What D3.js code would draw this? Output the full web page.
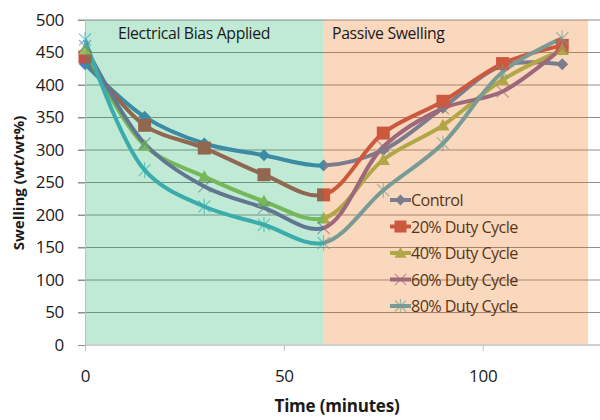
<!DOCTYPE html>
<html><head><meta charset="utf-8">
<script src="https://cdn.jsdelivr.net/npm/d3@7"></script>
<style>body{margin:0;background:#fff}svg{display:block}</style>
</head><body><svg width="600" height="420"></svg>
<script>
const times = [0, 15, 30, 45, 60, 75, 90, 105, 120];
const seriesNames = ["Control", "20% Duty Cycle", "40% Duty Cycle", "60% Duty Cycle", "80% Duty Cycle"];
const control = [432, 351, 310, 292, 276, 300, 365, 430, 432];
const duty20 = [443, 338, 303, 262, 231, 326, 375, 433, 461];
const duty40 = [455, 307, 259, 221, 195, 285, 338, 408, 454];
const duty60 = [460, 310, 244, 211, 180, 305, 364, 390, 457];
const duty80 = [470, 269, 213, 185, 157, 238, 310, 420, 472];
const yTicks = [0, 50, 100, 150, 200, 250, 300, 350, 400, 450, 500];
const xTicks = [0, 50, 100];
const phaseLabels = ["Electrical Bias Applied", "Passive Swelling"];
const phaseStart = [0, 60];
const phaseEnd = [60, 126.5];

const colors = ["#4F81BD", "#C0504D", "#9BBB59", "#8064A2", "#4BACC6"];
const markers = ["diamond", "square", "triangle", "x", "star"];
const phaseFill = ["rgba(3,171,91,0.25)", "rgba(237,116,23,0.28)"];
const allSeries = [control, duty20, duty40, duty60, duty80];

const svg = d3.select("svg");
const x = d3.scaleLinear().domain([0, 130]).range([85, 602]);
const y = d3.scaleLinear().domain([0, 500]).range([345, 20]);
const font = "'Open Sans', 'Liberation Sans', sans-serif";

// gridlines
svg.append("g").selectAll("line").data(yTicks.filter(d => d > 0)).join("line")
  .attr("x1", 78).attr("x2", 600).attr("y1", d => y(d)).attr("y2", d => y(d))
  .attr("stroke", "#8E8E8E").attr("stroke-width", 1);

// y axis
const yAxis = svg.append("g").attr("transform", "translate(85,0)")
  .call(d3.axisLeft(y).tickValues(yTicks).tickSize(7).tickPadding(14));
yAxis.select(".domain").attr("stroke", "#BFBFBF");
yAxis.selectAll(".tick line").attr("stroke", "#8E8E8E");
yAxis.selectAll("text").attr("font-family", font).attr("font-size", 17).attr("fill", "#1a1a1a").attr("letter-spacing", -0.3);

// x axis
const xAxis = svg.append("g").attr("transform", "translate(0,345)")
  .call(d3.axisBottom(x).tickValues(xTicks).tickSize(6).tickPadding(19));
xAxis.select(".domain").attr("stroke", "#9E9E9E").attr("d", "M85,0H600");
xAxis.selectAll(".tick line").attr("stroke", "#BFBFBF");
xAxis.selectAll("text").attr("font-family", font).attr("font-size", 17).attr("fill", "#1a1a1a").attr("letter-spacing", -0.3);

// lines
const line = d3.line().x((d, i) => x(times[i])).y(d => y(d)).curve(d3.curveCatmullRom.alpha(0.5));
allSeries.forEach((vals, k) => {
  svg.append("path").datum(vals).attr("d", line)
    .attr("fill", "none").attr("stroke", colors[k]).attr("stroke-width", 4)
    .attr("stroke-linejoin", "round");
});

function drawMarker(g, type, cx, cy, color, s) {
  if (type === "diamond") {
    g.append("path").attr("d", `M${cx},${cy - s}L${cx + s},${cy}L${cx},${cy + s}L${cx - s},${cy}Z`).attr("fill", color);
  } else if (type === "square") {
    g.append("rect").attr("x", cx - s).attr("y", cy - s).attr("width", 2 * s).attr("height", 2 * s).attr("fill", color);
  } else if (type === "triangle") {
    g.append("path").attr("d", `M${cx},${cy - s}L${cx + s},${cy + s * 0.8}L${cx - s},${cy + s * 0.8}Z`).attr("fill", color);
  } else if (type === "x") {
    g.append("path").attr("d", `M${cx - s},${cy - s}L${cx + s},${cy + s}M${cx - s},${cy + s}L${cx + s},${cy - s}`)
      .attr("stroke", color).attr("stroke-width", 1.3).attr("opacity", 0.6);
  } else {
    g.append("path").attr("d", `M${cx - s},${cy - s}L${cx + s},${cy + s}M${cx - s},${cy + s}L${cx + s},${cy - s}M${cx},${cy - s * 1.3}L${cx},${cy + s * 1.3}`)
      .attr("stroke", color).attr("stroke-width", 1.3).attr("opacity", 0.6);
  }
}
const msize = [6, 6.5, 6.5, 6, 6];
allSeries.forEach((vals, k) => {
  const g = svg.append("g");
  vals.forEach((v, i) => drawMarker(g, markers[k], x(times[i]), y(v), colors[k], msize[k]));
});

// legend
const lg = svg.append("g");
seriesNames.forEach((name, k) => {
  const ly = 200 + k * 26.5;
  lg.append("line").attr("x1", 390).attr("x2", 411).attr("y1", ly).attr("y2", ly)
    .attr("stroke", colors[k]).attr("stroke-width", 4);
  drawMarker(lg, markers[k], 400.5, ly, colors[k], msize[k] - 0.5);
  lg.append("text").attr("x", 411).attr("y", ly + 6).text(name)
    .attr("font-family", font).attr("font-size", 16.2).attr("fill", "#1a1a1a").attr("letter-spacing", -0.6);
});

// phase overlays (drawn on top, semi-transparent)
phaseLabels.forEach((lab, k) => {
  svg.append("rect").attr("x", x(phaseStart[k]) + (k === 0 ? 1 : 0)).attr("y", y(500))
    .attr("width", x(phaseEnd[k]) - x(phaseStart[k]) - (k === 0 ? 1 : 0)).attr("height", y(0) - y(500) - 1)
    .attr("fill", phaseFill[k]);
});
svg.append("text").attr("x", 118).attr("y", 39).text(phaseLabels[0])
  .attr("font-family", font).attr("font-size", 15.8).attr("fill", "#1a1a1a").attr("letter-spacing", -0.35);
svg.append("text").attr("x", 332).attr("y", 39).text(phaseLabels[1])
  .attr("font-family", font).attr("font-size", 15.8).attr("fill", "#1a1a1a").attr("letter-spacing", -0.35);

// axis titles
svg.append("text").attr("x", 337).attr("y", 412).attr("text-anchor", "middle").text("Time (minutes)")
  .attr("font-family", font).attr("font-size", 17).attr("font-weight", "bold").attr("fill", "#1a1a1a").attr("letter-spacing", -0.2);
svg.append("text").attr("transform", "translate(24,183) rotate(-90)").attr("text-anchor", "middle").text("Swelling (wt/wt%)")
  .attr("font-family", font).attr("font-size", 15).attr("font-weight", "bold").attr("fill", "#1a1a1a");
</script></body></html>
